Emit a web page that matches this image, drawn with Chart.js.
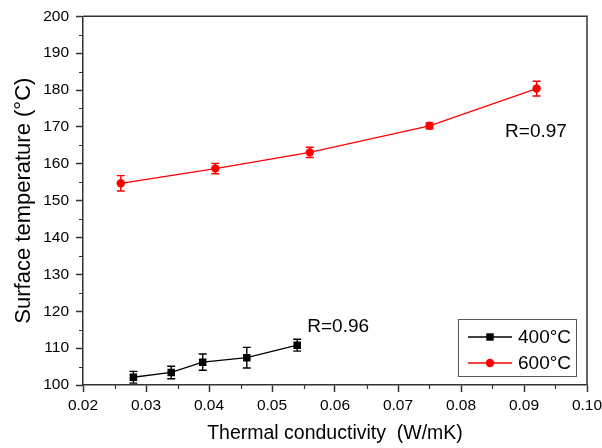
<!DOCTYPE html>
<html>
<head>
<meta charset="utf-8">
<script src="https://cdn.jsdelivr.net/npm/chart.js@4"></script>
<style>
  html, body { margin: 0; padding: 0; background: #fff; }
  #wrap { width: 602px; height: 448px; }
</style>
</head>
<body>
<div id="wrap"><canvas id="chart"></canvas></div>
<script>
// thermal conductivity (W/mK) vs surface temperature (°C)
var x400 = [0.028, 0.034, 0.039, 0.046, 0.054];
var y400 = [102.1, 103.4, 106.2, 107.4, 110.8];
var err400 = [1.6, 1.7, 2.2, 2.8, 1.6];

var x600 = [0.026, 0.041, 0.056, 0.075, 0.092];
var y600 = [154.7, 158.7, 163.1, 170.3, 180.4];
var err600 = [2.1, 1.4, 1.4, 0.8, 2.0];

var seriesNames = ['400°C', '600°C'];
var seriesColors = ['#000000', '#ff0000'];

// R labels, anchored in data units (left edge, vertical middle)
var rLabels = ['R=0.96', 'R=0.97'];
var rLabelX = [0.0556, 0.0870];
var rLabelY = [115.9, 168.6];

var xMin = 0.02, xMax = 0.10, xStep = 0.01;
var yMin = 100, yMax = 200, yStep = 10;

var FONT = '"Liberation Sans", Arial, sans-serif';
var AXIS = '#333333';

function toPoints(xs, ys) {
    return xs.map(function (x, i) { return { x: x, y: ys[i] }; });
}

var errorBars = {
    id: 'errorBars',
    afterDatasetsDraw: function (chart) {
        var ctx = chart.ctx;
        var xs = chart.scales.x, ys = chart.scales.y;
        var errs = [err400, err600];
        chart.data.datasets.forEach(function (ds, di) {
            ctx.save();
            ctx.strokeStyle = ds.borderColor;
            ctx.lineWidth = 1.4;
            ds.data.forEach(function (p, i) {
                var px = xs.getPixelForValue(p.x);
                var top = ys.getPixelForValue(p.y + errs[di][i]);
                var bot = ys.getPixelForValue(p.y - errs[di][i]);
                ctx.beginPath();
                ctx.moveTo(px, top); ctx.lineTo(px, bot);
                ctx.moveTo(px - 4, top); ctx.lineTo(px + 4, top);
                ctx.moveTo(px - 4, bot); ctx.lineTo(px + 4, bot);
                ctx.stroke();
            });
            ctx.restore();
        });
    }
};

var frame = {
    id: 'frame',
    afterDraw: function (chart) {
        var ctx = chart.ctx, a = chart.chartArea;
        var xs = chart.scales.x, ys = chart.scales.y;
        ctx.save();
        ctx.strokeStyle = AXIS;
        ctx.lineWidth = 1.5;
        ctx.beginPath();
        ctx.moveTo(a.left, a.top); ctx.lineTo(a.right, a.top); ctx.lineTo(a.right, a.bottom);
        ctx.stroke();
        // minor ticks
        ctx.lineWidth = 1.2;
        ctx.beginPath();
        for (var v = xMin + xStep / 2; v < xMax; v += xStep) {
            var px = Math.round(xs.getPixelForValue(v)) + 0.5;
            ctx.moveTo(px, a.bottom); ctx.lineTo(px, a.bottom + 4);
        }
        for (var w = yMin + yStep / 2; w < yMax; w += yStep) {
            var py = Math.round(ys.getPixelForValue(w)) + 0.5;
            ctx.moveTo(a.left, py); ctx.lineTo(a.left - 4, py);
        }
        ctx.stroke();

        // R labels
        ctx.fillStyle = '#000';
        ctx.font = '19px ' + FONT;
        ctx.textAlign = 'left';
        ctx.textBaseline = 'middle';
        rLabels.forEach(function (t, i) {
            ctx.fillText(t, xs.getPixelForValue(rLabelX[i]), ys.getPixelForValue(rLabelY[i]));
        });

        // legend box
        var bw = 118, bh = 57;
        var bx = a.right - 11 - bw, by = a.bottom - 9 - bh;
        ctx.strokeStyle = '#555';
        ctx.lineWidth = 1;
        ctx.strokeRect(bx + 0.5, by + 0.5, bw, bh);
        chart.data.datasets.forEach(function (ds, i) {
            var ly = by + 18 + i * 26;
            ctx.strokeStyle = ds.borderColor;
            ctx.lineWidth = 1.3;
            ctx.beginPath();
            ctx.moveTo(bx + 10, ly); ctx.lineTo(bx + 54, ly);
            ctx.stroke();
            ctx.fillStyle = ds.backgroundColor;
            if (ds.pointStyle === 'rect') {
                ctx.fillRect(bx + 32 - 3.7, ly - 3.7, 7.4, 7.4);
            } else {
                ctx.beginPath();
                ctx.arc(bx + 32, ly, 4.2, 0, Math.PI * 2);
                ctx.fill();
            }
            ctx.fillStyle = '#000';
            ctx.font = '19px ' + FONT;
            ctx.fillText(seriesNames[i], bx + 60, ly + 1);
        });
        ctx.restore();
    }
};

new Chart(document.getElementById('chart'), {
    type: 'line',
    data: {
        datasets: [{
            label: seriesNames[0],
            data: toPoints(x400, y400),
            borderColor: seriesColors[0],
            backgroundColor: seriesColors[0],
            borderWidth: 1.3,
            pointStyle: 'rect',
            pointRadius: 5.3,
            pointHoverRadius: 5.3,
            pointBorderWidth: 0
        }, {
            label: seriesNames[1],
            data: toPoints(x600, y600),
            borderColor: seriesColors[1],
            backgroundColor: seriesColors[1],
            borderWidth: 1.3,
            pointStyle: 'circle',
            pointRadius: 4.2,
            pointHoverRadius: 4.2,
            pointBorderWidth: 0
        }]
    },
    options: {
        responsive: true,
        maintainAspectRatio: false,
        animation: false,
        layout: { padding: { left: 0, right: 15, top: 16, bottom: 0 } },
        plugins: {
            legend: { display: false },
            tooltip: { enabled: false }
        },
        scales: {
            x: {
                type: 'linear',
                min: xMin,
                max: xMax,
                afterFit: function (s) { s.height = 63; s.paddingRight = 0; },
                border: { color: AXIS, width: 1.5 },
                grid: { drawOnChartArea: false, tickLength: 7, tickColor: AXIS, tickWidth: 1.5 },
                ticks: {
                    stepSize: xStep,
                    padding: 4,
                    color: '#000',
                    font: { family: FONT, size: 15.5 },
                    callback: function (v) { return v.toFixed(2); }
                },
                title: {
                    display: true,
                    text: 'Thermal conductivity  (W/mK)',
                    color: '#000',
                    font: { family: FONT, size: 19.5 },
                    padding: { top: 4, bottom: 3 }
                }
            },
            y: {
                type: 'linear',
                min: yMin,
                max: yMax,
                afterFit: function (s) { s.width = 83; },
                border: { color: AXIS, width: 1.5 },
                grid: { drawOnChartArea: false, tickLength: 7, tickColor: AXIS, tickWidth: 1.5 },
                ticks: {
                    stepSize: yStep,
                    padding: 7,
                    color: '#000',
                    font: { family: FONT, size: 15.5 }
                },
                title: {
                    display: true,
                    text: 'Surface temperature (°C)',
                    color: '#000',
                    font: { family: FONT, size: 22 },
                    padding: { top: 11, bottom: 0 }
                }
            }
        }
    },
    plugins: [errorBars, frame]
});
</script>
</body>
</html>
